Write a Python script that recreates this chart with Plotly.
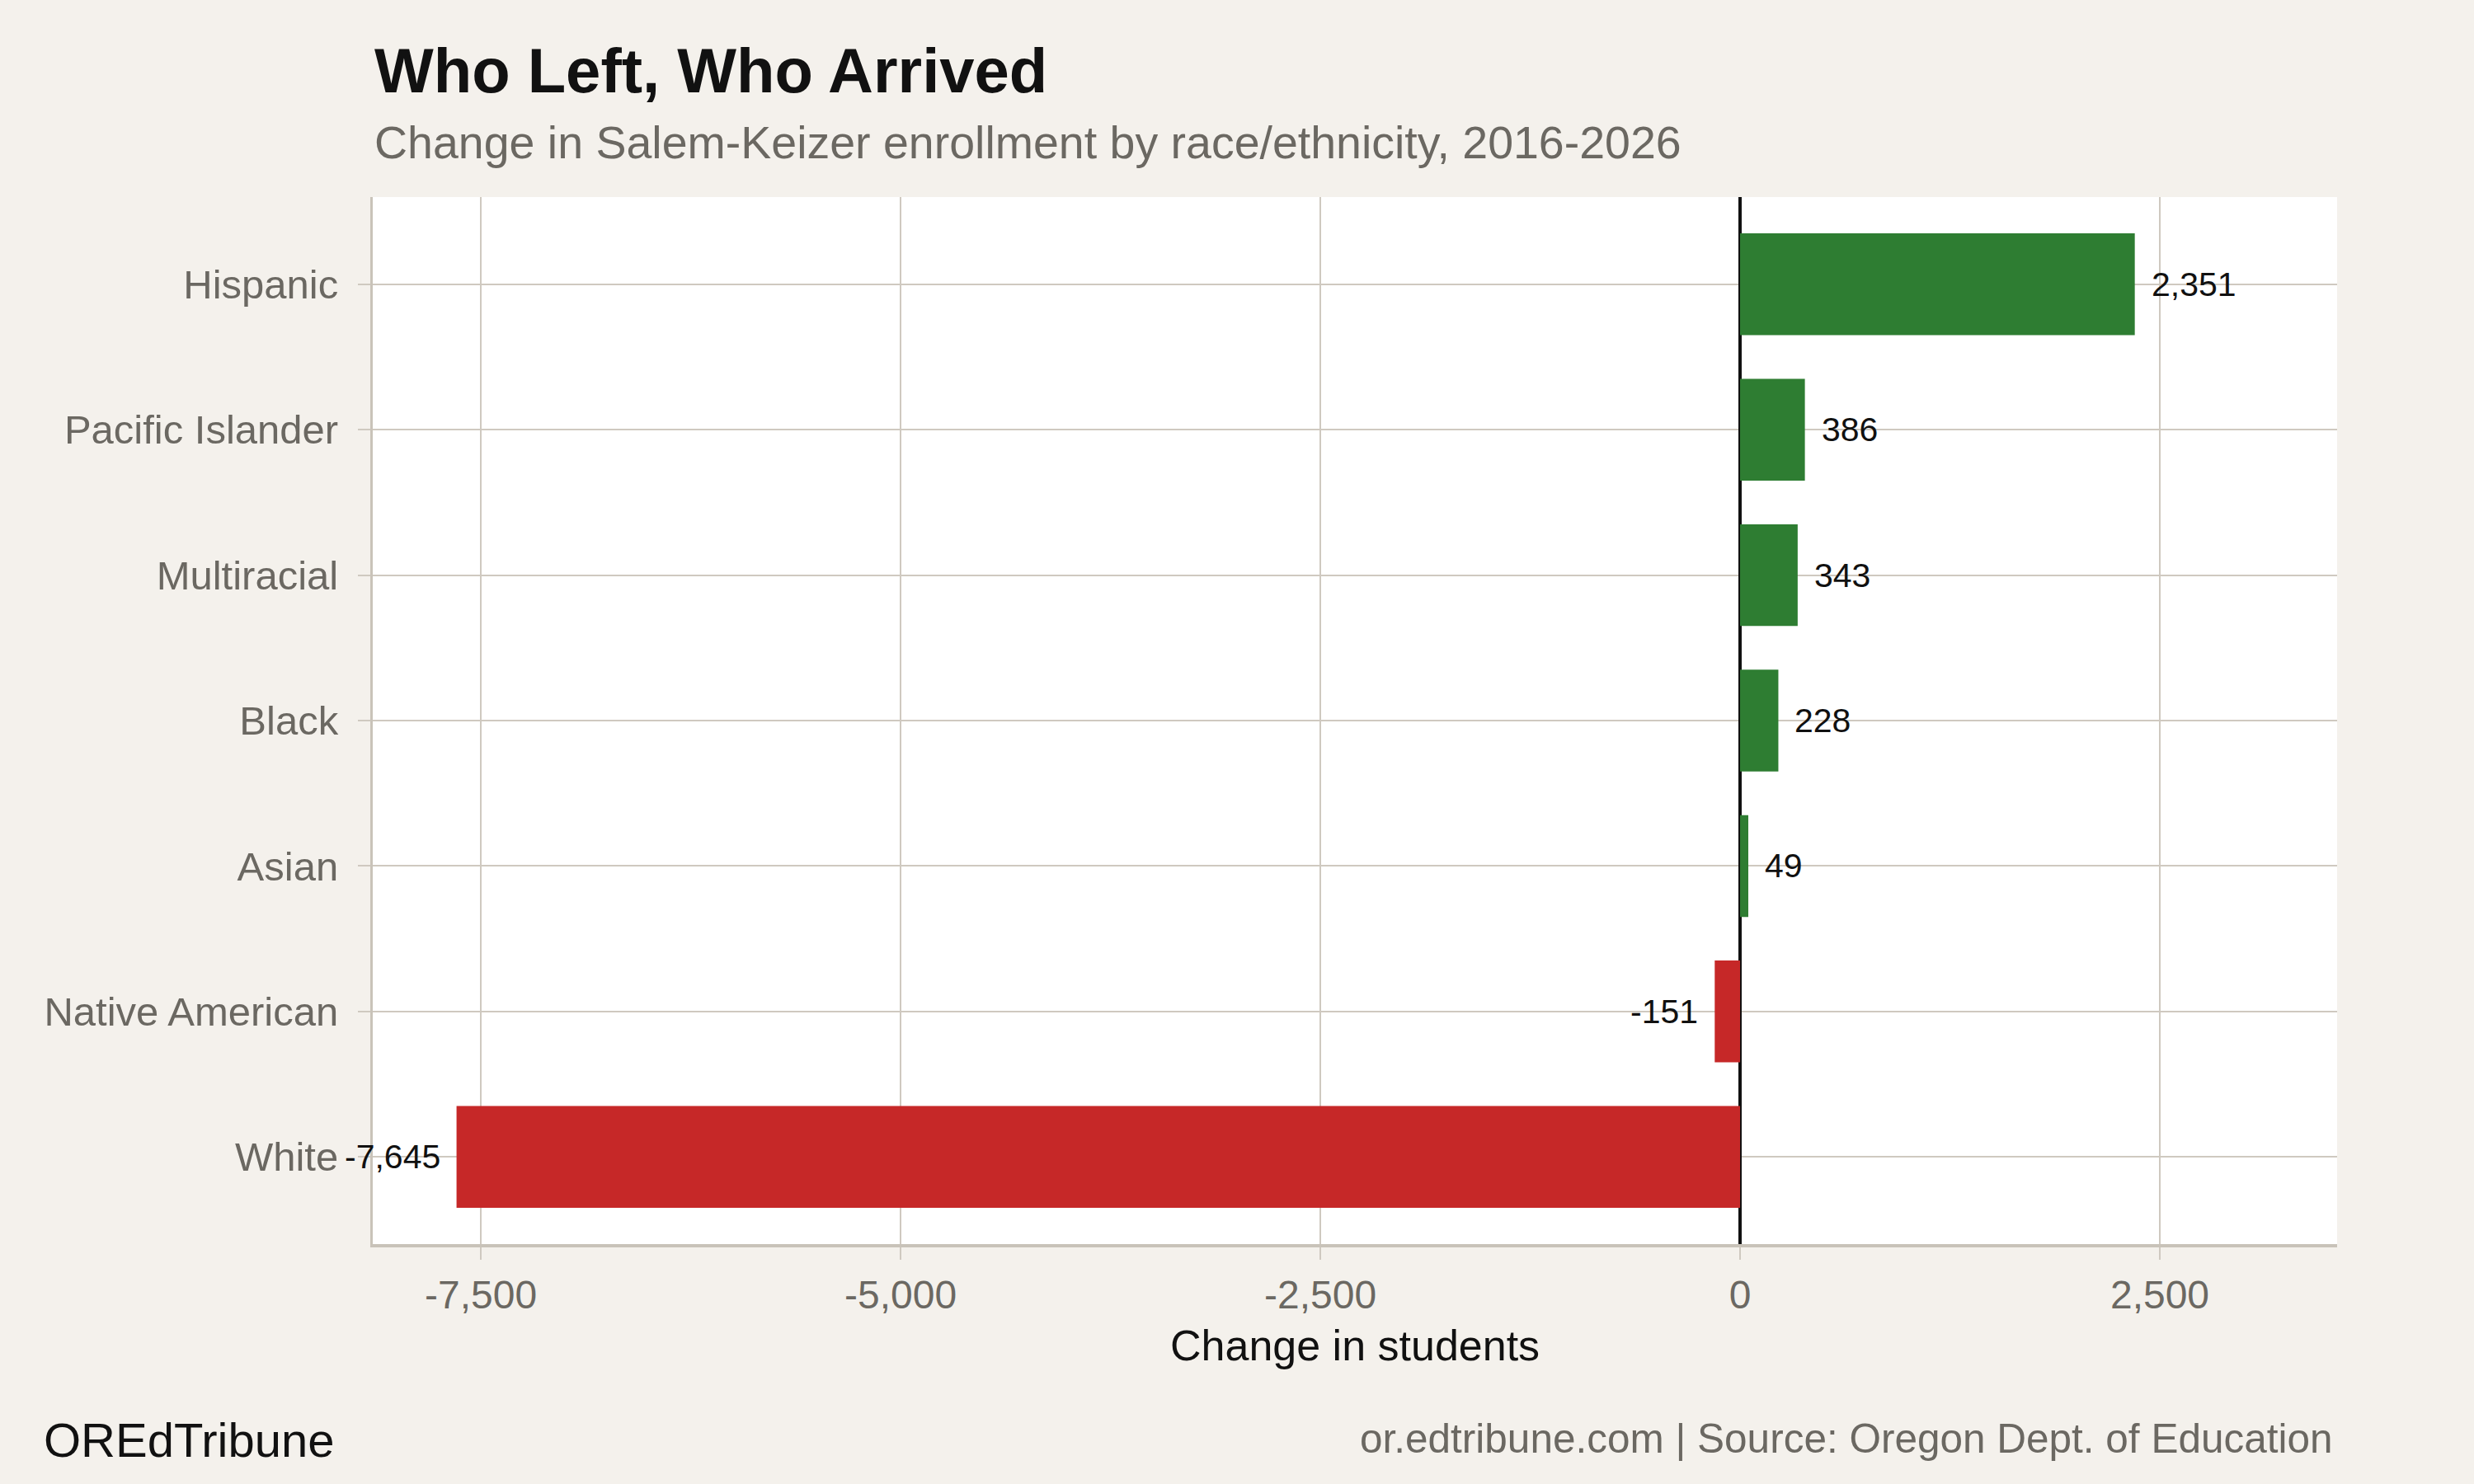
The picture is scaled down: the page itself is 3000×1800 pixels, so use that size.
import plotly.graph_objects as go

# Data (top to bottom)
categories = ["Hispanic", "Pacific Islander", "Multiracial", "Black", "Asian", "Native American", "White"]
changes = [2351, 386, 343, 228, 49, -151, -7645]
tick_values = [-7500, -5000, -2500, 0, 2500]
tick_labels = [f"{v:,}" for v in tick_values]

GREEN = "#2E7D32"
RED = "#C62828"
BG = "#F4F1EC"
GRID = "#CFC9C0"
AXIS = "#C9C3B9"
GRAY_TEXT = "#6B6862"
FONT = "Liberation Sans"

colors = [GREEN if v >= 0 else RED for v in changes]

fig = go.Figure()
fig.add_trace(go.Bar(
    x=changes, y=categories, orientation="h",
    marker=dict(color=colors, line=dict(width=0)),
    width=0.7, showlegend=False, hoverinfo="x+y",
))

annotations = []
for cat, v in zip(categories, changes):
    annotations.append(dict(
        x=v, y=cat, xref="x", yref="y",
        text=f"{v:,}", showarrow=False,
        xanchor="left" if v >= 0 else "right",
        xshift=18 if v >= 0 else -18,
        font=dict(family=FONT, size=41, color="#111111"),
    ))

# Titles and footer
annotations += [
    dict(text="<b>Who Left, Who Arrived</b>", x=0, y=1.1209, xref="paper", yref="paper",
         xanchor="left", yanchor="middle", showarrow=False,
         font=dict(family=FONT, size=76, color="#111111")),
    dict(text="Change in Salem-Keizer enrollment by race/ethnicity, 2016-2026", x=0, y=1.052,
         xref="paper", yref="paper", xanchor="left", yanchor="middle", showarrow=False,
         font=dict(family=FONT, size=55.5, color=GRAY_TEXT)),
    dict(text="Change in students", x=0.5, y=-0.0965, xref="paper", yref="paper",
         xanchor="center", yanchor="middle", showarrow=False,
         font=dict(family=FONT, size=52, color="#111111")),
    dict(text="OREdTribune", x=-0.1683, y=-0.1874, xref="paper", yref="paper",
         xanchor="left", yanchor="middle", showarrow=False,
         font=dict(family=FONT, size=58, color="#111111")),
    dict(text="or.edtribune.com | Source: Oregon Dept. of Education", x=0.9987, y=-0.1854,
         xref="paper", yref="paper", xanchor="right", yanchor="middle", showarrow=False,
         font=dict(family=FONT, size=49.5, color=GRAY_TEXT)),
]

fig.update_layout(
    width=3000, height=1800,
    paper_bgcolor=BG, plot_bgcolor="white",
    margin=dict(l=452, r=166, t=239, b=291, autoexpand=False),
    font=dict(family=FONT, color=GRAY_TEXT),
    annotations=annotations,
    bargap=0.3,
)
fig.update_xaxes(
    range=[-8144, 3556],
    tickvals=tick_values, ticktext=tick_labels,
    tickfont=dict(family=FONT, size=48, color=GRAY_TEXT),
    showgrid=True, gridcolor=GRID, gridwidth=2,
    zeroline=True, zerolinecolor="#111111", zerolinewidth=3.5,
    showline=True, linecolor=AXIS, linewidth=4,
    ticks="outside", ticklen=15, tickwidth=2, tickcolor=GRID,
    ticklabelstandoff=1,
)
fig.update_yaxes(
    categoryorder="array", categoryarray=categories,
    range=[6.6, -0.6],
    tickfont=dict(family=FONT, size=49, color=GRAY_TEXT),
    showgrid=True, gridcolor=GRID, gridwidth=2,
    showline=True, linecolor=AXIS, linewidth=3,
    ticks="outside", ticklen=15, tickwidth=2, tickcolor=GRID,
    ticklabelstandoff=14,
)

fig.write_html(
    "out.html",
    config={"displayModeBar": False},
    post_script="document.body.style.margin='0';document.body.style.background='%s';" % BG,
)
